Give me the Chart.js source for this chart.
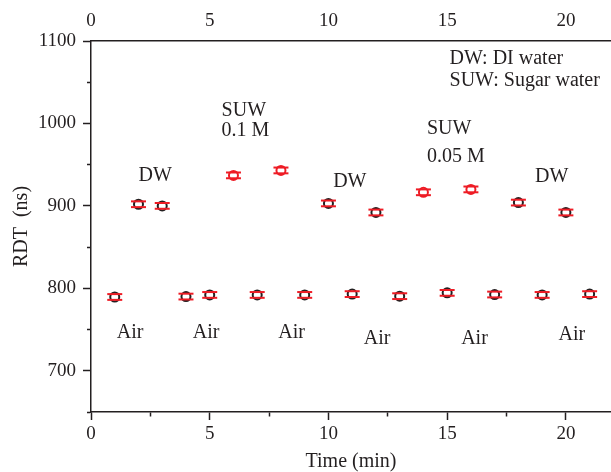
<!DOCTYPE html>
<html>
<head>
<meta charset="utf-8">
<script src="https://cdn.jsdelivr.net/npm/chart.js@4/dist/chart.umd.min.js"></script>
<style>
  html, body { margin: 0; padding: 0; background: #fff; }
  #wrap { width: 611px; height: 472px; }
</style>
</head>
<body>
<div id="wrap"><canvas id="rdt-chart" width="611" height="472"></canvas></div>
<script>
// measurement times (min) and round-trip delay time (ns)
const times = [1, 2, 3, 4, 5, 6, 7, 8, 9, 10, 11, 12, 13, 14, 15, 16, 17, 18, 19, 20, 21];
const rdt = [789.5, 902, 900, 790, 792, 937, 792, 943, 792, 903, 793, 892, 790.5, 916.5, 794.5, 920, 792.5, 904, 792, 892, 793];
const rdtErr = [3.5, 3.5, 3.5, 3.5, 3.5, 3.5, 3.5, 3.5, 3.5, 3.5, 3.5, 3.5, 3.5, 3.5, 3.5, 3.5, 3.5, 3.5, 3.5, 3.5, 3.5];
const medium = ['Air', 'DW', 'DW', 'Air', 'Air', 'SUW', 'Air', 'SUW', 'Air', 'DW', 'Air',
                'DW', 'Air', 'SUW', 'Air', 'SUW', 'Air', 'DW', 'Air', 'DW', 'Air'];

// tick labels
const xTickLabels = [0, 5, 10, 15, 20];
const yTickLabels = [700, 800, 900, 1000, 1100];

// text notes, anchored in data coordinates
const notes = [
    { text: 'DW', x: 2.7, y: 936, align: 'center' },
    { text: 'SUW', x: 5.5, y: 1015, align: 'left' },
    { text: '0.1 M', x: 5.5, y: 991, align: 'left' },
    { text: 'DW', x: 10.9, y: 929, align: 'center' },
    { text: 'SUW', x: 14.15, y: 993, align: 'left' },
    { text: '0.05 M', x: 14.15, y: 959, align: 'left' },
    { text: 'DW', x: 19.4, y: 935, align: 'center' },
    { text: 'Air', x: 1.65, y: 746, align: 'center' },
    { text: 'Air', x: 4.85, y: 746, align: 'center' },
    { text: 'Air', x: 8.45, y: 746, align: 'center' },
    { text: 'Air', x: 12.05, y: 739, align: 'center' },
    { text: 'Air', x: 16.15, y: 739, align: 'center' },
    { text: 'Air', x: 20.25, y: 744, align: 'center' },
    { text: 'DW: DI water', x: 15.1, y: 1079, align: 'left' },
    { text: 'SUW: Sugar water', x: 15.1, y: 1052, align: 'left' }
];

const ink = '#231f20';
const red = '#ee1c25';
const serif = '"Liberation Serif", "DejaVu Serif", serif';

const notePlugin = {
    id: 'notes',
    afterDatasetsDraw(chart) {
        const { ctx, scales: { x, y } } = chart;
        ctx.save();
        ctx.font = '20px ' + serif;
        ctx.fillStyle = ink;
        ctx.textBaseline = 'middle';
        notes.forEach(n => {
            ctx.textAlign = n.align;
            ctx.fillText(n.text, x.getPixelForValue(n.x), y.getPixelForValue(n.y));
        });
        ctx.restore();
    }
};

const capStyle = {
    showLine: false,
    pointStyle: 'line',
    pointRadius: 7.5,
    pointBorderWidth: 2,
    borderColor: red,
    pointBorderColor: red
};

const upper = times.map((t, i) => ({ x: t, y: rdt[i] + rdtErr[i] }));
const lower = times.map((t, i) => ({ x: t, y: rdt[i] - rdtErr[i] }));
const points = times.map((t, i) => ({ x: t, y: rdt[i] }));

const axisTicks = { color: ink, font: { family: serif, size: 19 } };

// minor ticks drawn shorter through a dash pattern (left ticks start outside, bottom ticks start at the axis)
const isMinorX = ctx => ctx.tick && !xTickLabels.includes(ctx.tick.value);
const isMinorY = ctx => ctx.tick && !yTickLabels.includes(ctx.tick.value);

new Chart(document.getElementById('rdt-chart'), {
    type: 'scatter',
    data: {
        datasets: [
            Object.assign({ label: 'upper', data: upper }, capStyle),
            Object.assign({ label: 'lower', data: lower }, capStyle),
            {
                label: 'RDT',
                data: points,
                showLine: false,
                pointStyle: 'circle',
                pointRadius: 4.5,
                pointBorderWidth: 2,
                pointBackgroundColor: '#ffffff',
                pointBorderColor: medium.map(m => m === 'SUW' ? red : ink)
            }
        ]
    },
    options: {
        responsive: false,
        animation: false,
        layout: { padding: 0, autoPadding: false },
        plugins: { legend: { display: false }, tooltip: { enabled: false } },
        scales: {
            x: {
                type: 'linear',
                position: 'bottom',
                min: 0,
                max: 21.9,
                afterFit: s => { s.height = 60; },
                border: { color: ink, width: 1.5 },
                grid: {
                    drawOnChartArea: false, tickLength: 8, tickColor: ink, tickWidth: 1.5,
                    tickBorderDash: ctx => isMinorX(ctx) ? [4, 20] : []
                },
                ticks: Object.assign({
                    stepSize: 2.5,
                    includeBounds: false,
                    maxRotation: 0,
                    autoSkip: false,
                    padding: 3,
                    callback: v => xTickLabels.includes(v) ? String(v) : ''
                }, axisTicks),
                title: { display: true, text: 'Time (min)', color: ink, font: { family: serif, size: 20 }, padding: { top: 0, bottom: -2 } }
            },
            xTop: {
                type: 'linear',
                position: 'top',
                min: 0,
                max: 21.9,
                afterFit: s => { s.height = 41; },
                border: { color: ink, width: 1.5 },
                grid: { drawOnChartArea: false, drawTicks: false },
                ticks: Object.assign({
                    stepSize: 2.5,
                    includeBounds: false,
                    maxRotation: 0,
                    autoSkip: false,
                    padding: 9,
                    callback: v => xTickLabels.includes(v) ? String(v) : ''
                }, axisTicks)
            },
            y: {
                type: 'linear',
                position: 'left',
                min: 650,
                max: 1100,
                afterFit: s => { s.width = 91; },
                border: { color: ink, width: 1.5 },
                grid: {
                    drawOnChartArea: false, tickLength: 8, tickColor: ink, tickWidth: 1.5,
                    tickBorderDash: ctx => isMinorY(ctx) ? [0, 4, 4, 20] : []
                },
                ticks: Object.assign({
                    stepSize: 50,
                    autoSkip: false,
                    padding: 7,
                    callback: v => yTickLabels.includes(v) ? String(v) : ''
                }, axisTicks),
                title: { display: true, text: 'RDT  (ns)', color: ink, font: { family: serif, size: 20 }, padding: { top: 10, bottom: 0 } }
            }
        }
    },
    plugins: [notePlugin]
});
</script>
</body>
</html>
